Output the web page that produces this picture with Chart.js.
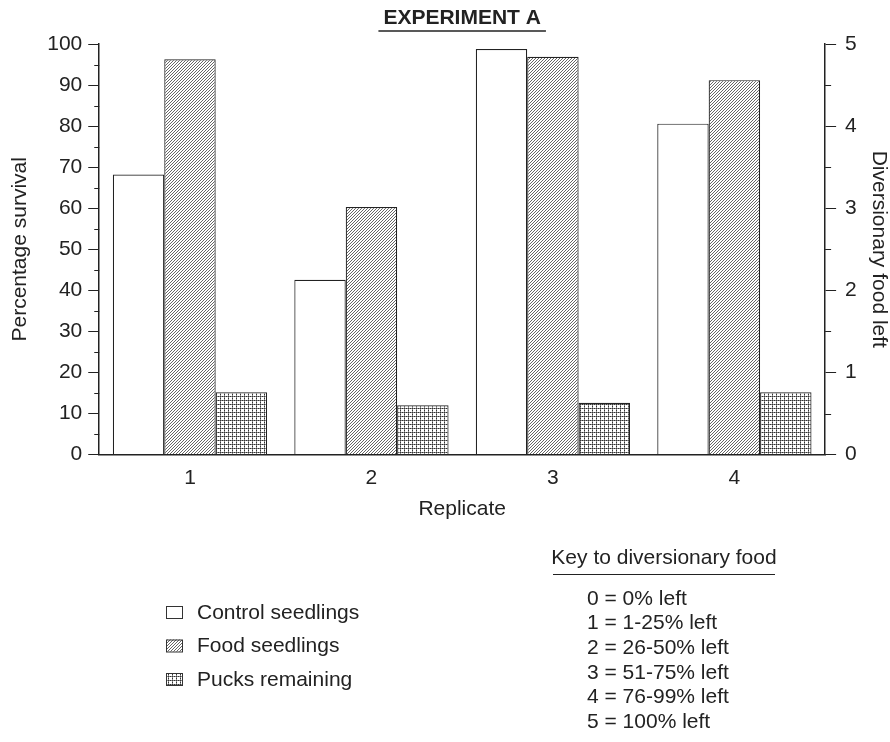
<!DOCTYPE html>
<html>
<head>
<meta charset="utf-8">
<script src="https://cdn.jsdelivr.net/npm/chart.js@4/dist/chart.umd.min.js"></script>
<style>
  body { margin: 0; background: #fff; }
  #chart { display: block; }
</style>
</head>
<body>
<canvas id="chart" width="890" height="742"></canvas>
<script>
const replicates = ["1", "2", "3", "4"];
const controlSeedlings = [68.2, 42.6, 98.8, 80.6];
const foodSeedlings = [96.3, 60.3, 96.9, 91.2];
const pucksRemaining = [0.76, 0.6, 0.63, 0.76];
const seriesNames = ["Control seedlings", "Food seedlings", "Pucks remaining"];
const keyTitle = "Key to diversionary food";
const keyLines = [
  "0 = 0% left",
  "1 = 1-25% left",
  "2 = 26-50% left",
  "3 = 51-75% left",
  "4 = 76-99% left",
  "5 = 100% left",
];

const ink = "#222";
const font = '"Liberation Sans", Arial, sans-serif';
const fs = 21;

// little canvas tiles for the fills
const hatch = (() => {
  const c = document.createElement("canvas");
  c.width = 3;
  c.height = 3;
  const g = c.getContext("2d");
  g.fillStyle = "#fff";
  g.fillRect(0, 0, 3, 3);
  g.fillStyle = "#666";
  for (let i = 0; i < 3; i++) g.fillRect(i, 2 - i, 1, 1);
  return g.createPattern(c, "repeat");
})();

const dots = (() => {
  const c = document.createElement("canvas");
  c.width = 4;
  c.height = 4;
  const g = c.getContext("2d");
  g.fillStyle = "#fff";
  g.fillRect(0, 0, 4, 4);
  g.fillStyle = "#888";
  g.fillRect(0, 0, 4, 1);
  g.fillRect(0, 0, 1, 4);
  g.fillStyle = "#333";
  g.fillRect(0, 0, 1, 1);
  g.fillRect(2, 0, 1, 1);
  g.fillRect(0, 2, 1, 1);
  return g.createPattern(c, "repeat");
})();

const fills = ["#fff", hatch, dots];

const extras = {
  id: "extras",
  afterDraw(chart) {
    const ctx = chart.ctx;
    const area = chart.chartArea;
    ctx.save();
    ctx.fillStyle = ink;
    ctx.strokeStyle = ink;

    // title, underlined
    ctx.font = "bold " + fs + "px " + font;
    ctx.textAlign = "center";
    ctx.textBaseline = "middle";
    const cx = (area.left + area.right) / 2;
    ctx.fillText("EXPERIMENT A", cx, 18);
    const tw = ctx.measureText("EXPERIMENT A").width;
    ctx.lineWidth = 1.5;
    ctx.beginPath();
    ctx.moveTo(cx - tw / 2 - 5, 31);
    ctx.lineTo(cx + tw / 2 + 5, 31);
    ctx.stroke();

    // minor ticks
    ctx.lineWidth = 1;
    const y = chart.scales.y;
    y.ticks.forEach((t) => {
      if (t.value % 10 === 0) return;
      const p = Math.round(y.getPixelForValue(t.value)) + 0.5;
      ctx.beginPath();
      ctx.moveTo(area.left - 5, p);
      ctx.lineTo(area.left, p);
      ctx.stroke();
    });
    const y2 = chart.scales.y2;
    y2.ticks.forEach((t) => {
      if (Number.isInteger(t.value)) return;
      const p = Math.round(y2.getPixelForValue(t.value)) + 0.5;
      ctx.beginPath();
      ctx.moveTo(area.right, p);
      ctx.lineTo(area.right + 6, p);
      ctx.stroke();
    });

    // legend
    ctx.font = fs + "px " + font;
    ctx.textAlign = "left";
    seriesNames.forEach((name, i) => {
      const ly = 612 + i * 33.5;
      ctx.fillStyle = fills[i];
      ctx.fillRect(166, ly - 6, 16, 12);
      ctx.strokeStyle = "#333";
      ctx.strokeRect(166.5, ly - 5.5, 16, 12);
      ctx.fillStyle = ink;
      ctx.fillText(name, 197, ly + 1);
    });

    // key
    ctx.textAlign = "center";
    ctx.fillText(keyTitle, 664, 558);
    ctx.strokeStyle = ink;
    ctx.beginPath();
    ctx.moveTo(553, 574.5);
    ctx.lineTo(775, 574.5);
    ctx.stroke();
    ctx.textAlign = "left";
    keyLines.forEach((line, i) => {
      ctx.fillText(line, 587, 599 + i * 24.6);
    });
    ctx.restore();
  },
};

new Chart(document.getElementById("chart"), {
  type: "bar",
  data: {
    labels: replicates,
    datasets: [
      { label: seriesNames[0], data: controlSeedlings, yAxisID: "y", backgroundColor: fills[0] },
      { label: seriesNames[1], data: foodSeedlings, yAxisID: "y", backgroundColor: fills[1] },
      { label: seriesNames[2], data: pucksRemaining, yAxisID: "y2", backgroundColor: fills[2] },
    ],
  },
  options: {
    responsive: false,
    animation: false,
    layout: { padding: { top: 44, left: 8, right: -5, bottom: 220 } },
    categoryPercentage: 0.85,
    barPercentage: 1,
    borderColor: "#222",
    borderWidth: 1.2,
    borderSkipped: "bottom",
    plugins: {
      legend: { display: false },
      tooltip: { enabled: false },
    },
    scales: {
      x: {
        grid: { display: false },
        border: { color: ink, width: 1.5 },
        ticks: { color: ink, font: { size: fs }, padding: 3 },
        title: { display: true, text: "Replicate", color: ink, font: { size: fs }, padding: { top: 3, bottom: 0 } },
      },
      y: {
        position: "left",
        min: 0,
        max: 100,
        border: { color: ink, width: 1.5 },
        grid: {
          drawOnChartArea: false,
          tickLength: 11,
          tickColor: (c) => (c.tick && c.tick.value % 10 === 0 ? ink : "rgba(0,0,0,0)"),
        },
        ticks: {
          stepSize: 5,
          autoSkip: false,
          color: ink,
          font: { size: fs },
          padding: 6,
          callback: (v) => (v % 10 === 0 ? v : ""),
        },
        title: { display: true, text: "Percentage survival", color: ink, font: { size: fs }, padding: { top: 0, bottom: 8 } },
      },
      y2: {
        position: "right",
        min: 0,
        max: 5,
        border: { color: ink, width: 1.5 },
        grid: {
          drawOnChartArea: false,
          tickLength: 11,
          tickColor: (c) => (c.tick && Number.isInteger(c.tick.value) ? ink : "rgba(0,0,0,0)"),
        },
        ticks: {
          stepSize: 0.5,
          autoSkip: false,
          color: ink,
          font: { size: fs },
          padding: 9,
          callback: (v) => (Number.isInteger(v) ? v : ""),
        },
        title: { display: true, text: "Diversionary food left", color: ink, font: { size: fs }, padding: { top: 4, bottom: 0 } },
      },
    },
  },
  plugins: [extras],
});
</script>
</body>
</html>
